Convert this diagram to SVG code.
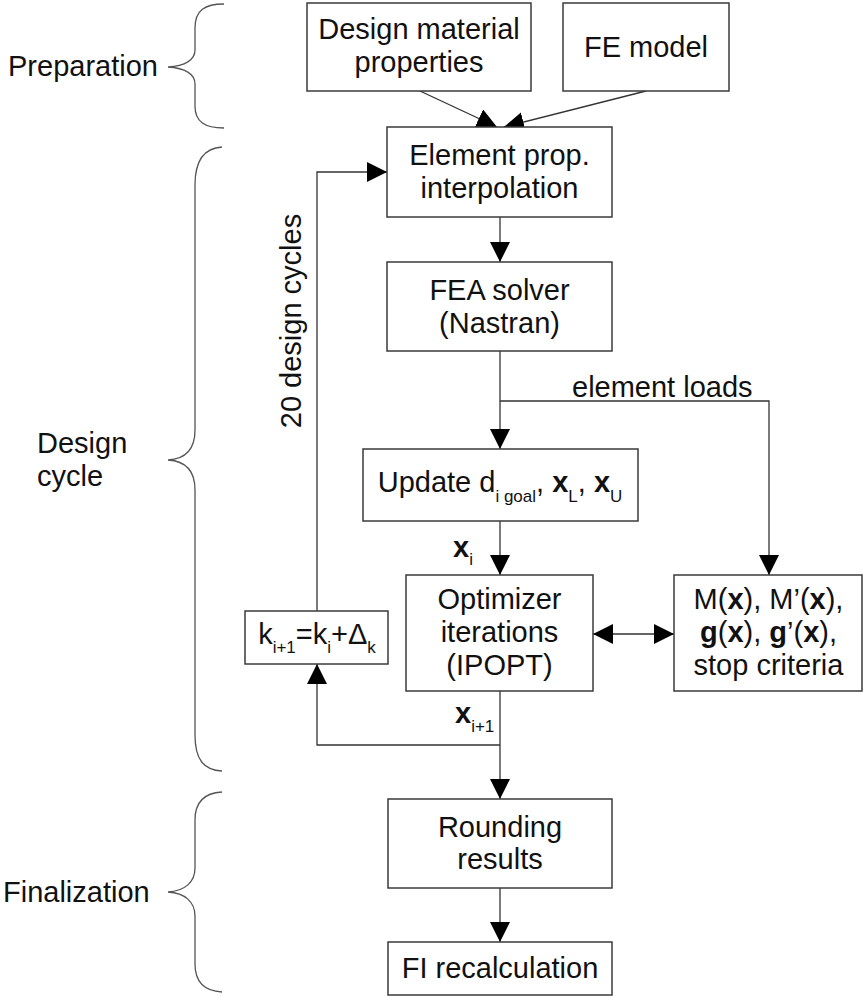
<svg xmlns="http://www.w3.org/2000/svg" width="863" height="996" viewBox="0 0 863 996">
<defs>
<marker id="arr" markerUnits="userSpaceOnUse" markerWidth="20" markerHeight="20" refX="20" refY="10" orient="auto">
<path d="M0,0 L20,10 L0,20 Z" fill="#000"/>
</marker>
<marker id="arrs" markerUnits="userSpaceOnUse" markerWidth="20" markerHeight="20" refX="0" refY="10" orient="auto">
<path d="M20,0 L0,10 L20,20 Z" fill="#000"/>
</marker>
<style>
.box{fill:#fff;stroke:#3a3a3a;stroke-width:1.5}
.t{font-family:"Liberation Sans",Arial,sans-serif;font-size:29px;fill:#111}
.c{text-anchor:middle}
.s{font-size:17px}
.b{font-weight:bold}
.ln{fill:none;stroke:#333;stroke-width:1.3}
.br{fill:none;stroke:#555;stroke-width:1.3}
</style>
</defs>
<rect width="863" height="996" fill="#fff"/>

<g id="braces">
<path class="br" d="M224,4 C205,4 195,10 195,28 L195,50 C195,60 185,66 168,67 C185,68 195,74 195,84 L195,106 C195,122 205,128 224,128"/>
<path class="br" d="M222,147 C204,148 195,160 195,185 L195,430 C195,450 185,459 168,460 C185,461 195,470 195,490 L195,735 C195,760 204,770 222,771"/>
<path class="br" d="M222,792 C204,793 195,802 195,820 L195,868 C195,882 185,891 168,892 C185,893 195,902 195,916 L195,964 C195,982 204,991 222,992"/>
</g>
<g id="phase-labels">
<text class="t" x="8" y="76">Preparation</text>
<text class="t" x="37" y="453">Design</text>
<text class="t" x="37" y="486">cycle</text>
<text class="t" x="3" y="902">Finalization</text>
</g>

<g id="connectors">
<line class="ln" x1="420" y1="91" x2="497" y2="127" marker-end="url(#arr)"/>
<line class="ln" x1="646" y1="91" x2="504" y2="127" marker-end="url(#arr)"/>
<line class="ln" x1="500" y1="217" x2="500" y2="262" marker-end="url(#arr)"/>
<line class="ln" x1="500" y1="351" x2="500" y2="449" marker-end="url(#arr)"/>
<polyline class="ln" points="500,401 769,401 769,575" marker-end="url(#arr)"/>
<line class="ln" x1="500" y1="521" x2="500" y2="575" marker-end="url(#arr)"/>
<line class="ln" x1="593" y1="634" x2="674" y2="634" marker-start="url(#arrs)" marker-end="url(#arr)"/>
<line class="ln" x1="500" y1="691" x2="500" y2="799" marker-end="url(#arr)"/>
<polyline class="ln" points="500,745 317,745 317,664" marker-end="url(#arr)"/>
<polyline class="ln" points="317,611 317,172 387,172" marker-end="url(#arr)"/>
<line class="ln" x1="500" y1="888" x2="500" y2="942" marker-end="url(#arr)"/>
<text class="t" x="572" y="397">element loads</text>
<text class="t c" transform="translate(301,321) rotate(-90)">20 design cycles</text>
<text class="t" x="453" y="557"><tspan class="b">x</tspan><tspan class="s" dy="8">i</tspan></text>
<text class="t" x="455" y="723"><tspan class="b">x</tspan><tspan class="s" dy="9">i+1</tspan></text>
</g>

<g id="design-material">
<rect class="box" x="307" y="3" width="224" height="88"/>
<text class="t c" x="419" y="39">Design material</text>
<text class="t c" x="419" y="72">properties</text>
</g>
<g id="fe-model">
<rect class="box" x="563" y="3" width="166" height="88"/>
<text class="t c" x="646" y="57">FE model</text>
</g>
<g id="element-prop">
<rect class="box" x="387" y="127" width="225" height="90"/>
<text class="t c" x="499.5" y="165">Element prop.</text>
<text class="t c" x="499.5" y="198">interpolation</text>
</g>
<g id="fea-solver">
<rect class="box" x="387" y="262" width="225" height="89"/>
<text class="t c" x="499.5" y="300">FEA solver</text>
<text class="t c" x="499.5" y="333">(Nastran)</text>
</g>
<g id="update">
<rect class="box" x="363" y="449" width="275" height="72"/>
<text class="t c" x="500" y="492">Update d<tspan class="s" dy="10">i goal</tspan><tspan dy="-10">, </tspan><tspan class="b">x</tspan><tspan class="s" dy="10">L</tspan><tspan dy="-10">, </tspan><tspan class="b">x</tspan><tspan class="s" dy="10">U</tspan></text>
</g>
<g id="optimizer">
<rect class="box" x="406" y="575" width="187" height="116"/>
<text class="t c" x="499.5" y="609">Optimizer</text>
<text class="t c" x="499.5" y="642">iterations</text>
<text class="t c" x="499.5" y="675">(IPOPT)</text>
</g>
<g id="objective">
<rect class="box" x="674" y="575" width="188" height="116"/>
<text class="t c" x="768.5" y="609">M(<tspan class="b">x</tspan>), M’(<tspan class="b">x</tspan>),</text>
<text class="t c" x="768.5" y="642"><tspan class="b">g</tspan>(<tspan class="b">x</tspan>), <tspan class="b">g</tspan>’(<tspan class="b">x</tspan>),</text>
<text class="t c" x="768.5" y="675">stop criteria</text>
</g>
<g id="k-update">
<rect class="box" x="245" y="611" width="143" height="53"/>
<text class="t c" x="317" y="644">k<tspan class="s" dy="9">i+1</tspan><tspan dy="-9">=k</tspan><tspan class="s" dy="9">i</tspan><tspan dy="-9">+Δ</tspan><tspan class="s" dy="9">k</tspan></text>
</g>
<g id="rounding">
<rect class="box" x="388" y="799" width="224" height="89"/>
<text class="t c" x="500" y="837">Rounding</text>
<text class="t c" x="500" y="869">results</text>
</g>
<g id="fi-recalc">
<rect class="box" x="388" y="942" width="224" height="53"/>
<text class="t c" x="500" y="978">FI recalculation</text>
</g>
</svg>
